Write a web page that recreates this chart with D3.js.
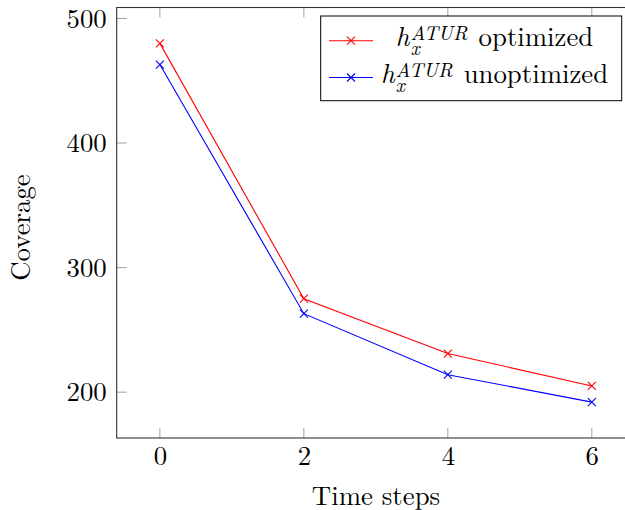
<!DOCTYPE html>
<html><head><meta charset="utf-8">
<script src="https://cdn.jsdelivr.net/npm/d3@7"></script>
<style>body{margin:0;background:#fff}svg{display:block}</style>
</head><body><svg id="c" width="625" height="510"></svg>
<script>
const steps = [0, 2, 4, 6];
const optimized = [480, 275, 231, 205];
const unoptimized = [463, 263, 214, 192];
const xTicks = [0, 2, 4, 6];
const yTicks = [200, 300, 400, 500];
const seriesNames = ["optimized", "unoptimized"];
const seriesColors = ["#ff0000", "#0000ff"];

const FONT = "'Latin Modern Roman', 'CMU Serif', 'Liberation Serif', serif";
const svg = d3.select("#c").style("font-family", FONT);
const L = 116.7, R = 635, T = 7.5, B = 438;
const x = d3.scaleLinear().domain([-0.6, 6.6]).range([L, R]);
const y = d3.scaleLinear().domain([163.2, 508.8]).range([B, T]);
const fs = 26.8;

// inside ticks on all sides
const tl = 10, tc = "#a0a0a0";
const g = svg.append("g");
xTicks.forEach(v => {
  g.append("line").attr("x1", x(v)).attr("x2", x(v)).attr("y1", B).attr("y2", B - tl).attr("stroke", tc).attr("stroke-width", 1);
  g.append("line").attr("x1", x(v)).attr("x2", x(v)).attr("y1", T).attr("y2", T + tl).attr("stroke", tc).attr("stroke-width", 1);
});
yTicks.forEach(v => {
  g.append("line").attr("x1", L).attr("x2", L + tl).attr("y1", y(v)).attr("y2", y(v)).attr("stroke", tc).attr("stroke-width", 1);
  g.append("line").attr("x1", R).attr("x2", R - tl).attr("y1", y(v)).attr("y2", y(v)).attr("stroke", tc).attr("stroke-width", 1);
});

// axes via d3
const xAxis = svg.append("g").attr("transform", `translate(0,${B})`)
  .call(d3.axisBottom(x).tickValues(xTicks).tickSize(0).tickPadding(8).tickFormat(d3.format("d")));
const yAxis = svg.append("g").attr("transform", `translate(${L},0)`)
  .call(d3.axisLeft(y).tickValues(yTicks).tickSize(0).tickPadding(10).tickFormat(d3.format("d")));
[xAxis, yAxis].forEach(a => {
  a.attr("font-family", null).attr("font-size", null);
  a.select(".domain").remove();
  a.selectAll("text").style("font-family", FONT).attr("font-size", fs).attr("fill", "#000");
});

// frame
svg.append("rect").attr("x", L).attr("y", T).attr("width", R - L).attr("height", B - T)
  .attr("fill", "none").attr("stroke", "#333").attr("stroke-width", 1.1);

// series
const data = [optimized, unoptimized];
const line = d3.line().x((d, i) => x(steps[i])).y(d => y(d));
const ms = 4;
data.forEach((vals, si) => {
  svg.append("path").datum(vals).attr("d", line).attr("fill", "none")
    .attr("stroke", seriesColors[si]).attr("stroke-width", 1.1);
  vals.forEach((v, i) => {
    const cx = x(steps[i]), cy = y(v);
    svg.append("path").attr("d", `M${cx-ms},${cy-ms}L${cx+ms},${cy+ms}M${cx-ms},${cy+ms}L${cx+ms},${cy-ms}`)
      .attr("stroke", seriesColors[si]).attr("stroke-width", 1.1);
  });
});

// axis labels
svg.append("text").attr("x", 376).attr("y", 505).attr("text-anchor", "middle")
  .style("font-family", FONT).attr("font-size", fs).text("Time steps");
svg.append("text").attr("transform", "translate(30,227.5) rotate(-90)").attr("text-anchor", "middle")
  .style("font-family", FONT).attr("font-size", fs).text("Coverage");

// legend
const lg = svg.append("g");
lg.append("rect").attr("x", 320.7).attr("y", 16).attr("width", 301).attr("height", 84.7)
  .attr("fill", "#fff").attr("stroke", "#000").attr("stroke-width", 1);
const rows = [40.7, 77.5];
const cxText = 494.5, sfs = 20;
seriesNames.forEach((name, si) => {
  const ry = rows[si];
  lg.append("line").attr("x1", 329).attr("x2", 373).attr("y1", ry).attr("y2", ry)
    .attr("stroke", seriesColors[si]).attr("stroke-width", 1.1);
  const cx = 351;
  lg.append("path").attr("d", `M${cx-ms},${ry-ms}L${cx+ms},${ry+ms}M${cx-ms},${ry+ms}L${cx+ms},${ry-ms}`)
    .attr("stroke", seriesColors[si]).attr("stroke-width", 1.1);
  const base = ry + 5.5;
  const h = lg.append("text").attr("y", base).attr("font-size", fs).attr("font-style", "italic").style("font-family", FONT).text("h");
  const sub = lg.append("text").attr("y", base + 9).attr("font-size", sfs).attr("font-style", "italic").style("font-family", FONT).text("x");
  const sup = lg.append("text").attr("y", base - 6.5).attr("font-size", sfs).attr("font-style", "italic").style("font-family", FONT).text("ATUR");
  const nm = lg.append("text").attr("y", base).attr("font-size", fs).style("font-family", FONT).text(name);
  const wh = h.node().getComputedTextLength();
  const ws = Math.max(sub.node().getComputedTextLength(), sup.node().getComputedTextLength());
  const wn = nm.node().getComputedTextLength();
  const gap = 11;
  const total = wh + 1 + ws + gap + wn;
  const x0 = cxText - total / 2;
  h.attr("x", x0);
  sub.attr("x", x0 + wh + 1);
  sup.attr("x", x0 + wh + 1);
  nm.attr("x", x0 + wh + 1 + ws + gap);
});
</script></body></html>
